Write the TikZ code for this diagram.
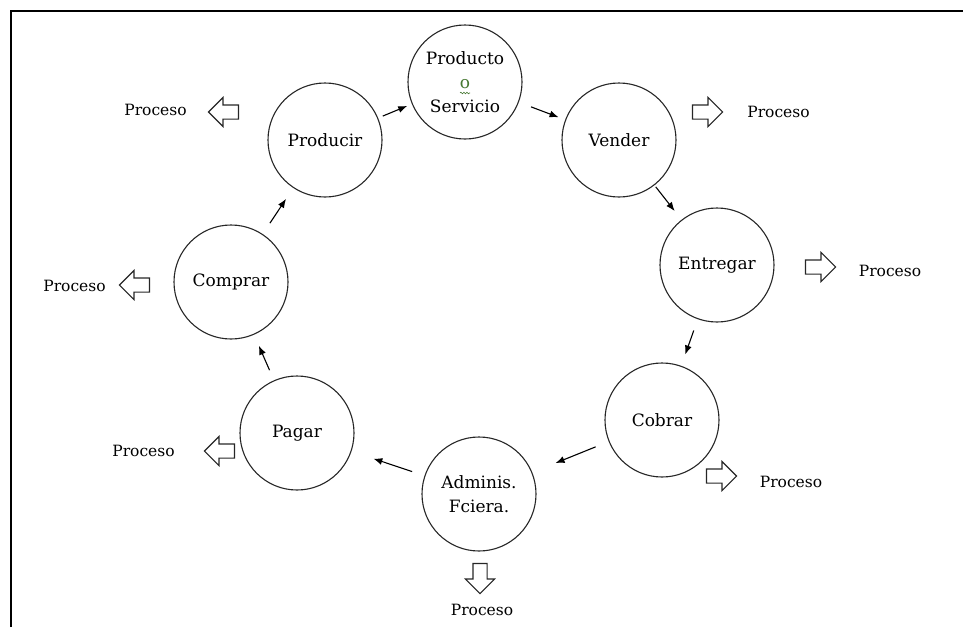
\documentclass[tikz,border=0pt]{standalone}
\usepackage{fontspec}
\setmainfont{DejaVu Serif}
\usetikzlibrary{shapes.arrows,arrows.meta,decorations.pathmorphing}
\definecolor{ogreen}{RGB}{70,120,50}

\begin{document}
\begin{tikzpicture}[x=1pt,y=-1pt,
  stagecirc/.style={circle, draw=black!85, line width=1.1pt, minimum size=114pt,
    inner sep=0pt, align=center, font=\fontsize{17}{24}\selectfont},
  flowarrow/.style={-{Latex[length=9pt,width=7pt]}, line width=1.1pt},
  blockarrow/.style={single arrow, draw=black!85, line width=1.1pt,
    minimum height=30pt, single arrow head extend=7.5pt,
    inner sep=0pt, shape border rotate=#1},
  outarrow/.style={blockarrow=#1, text height=6.5pt, text depth=6.5pt, text width=0pt},
  downarrow/.style={blockarrow=270, text height=0pt, text depth=0pt, text width=13pt},
  proclabel/.style={font=\fontsize{15.5}{18}\selectfont, inner sep=0pt}
]
\useasboundingbox (0,0) rectangle (963,627);

% page frame (top and left edges)
\draw[line width=2pt] (10.5,627) -- (10.5,10.5) -- (963,10.5);

% the cycle of stages
\node[stagecirc] (ps) at (465,82)  {Producto\\{\color{ogreen}o}\\Servicio};
\node[stagecirc] (ve) at (619,140) {Vender};
\node[stagecirc] (en) at (717,265) {Entregar};
\node[stagecirc] (co) at (662,420) {Cobrar};
\node[stagecirc] (ad) at (479,494) {Adminis.\\Fciera.};
\node[stagecirc] (pa) at (297,433) {Pagar};
\node[stagecirc] (cm) at (231,282) {Comprar};
\node[stagecirc] (pr) at (325,140) {Producir};

% green squiggle under the "o"
\draw[ogreen, line width=0.6pt, decorate,
  decoration={snake, amplitude=0.8pt, segment length=3pt}] (460,93) -- (470,93);

% arrows between stages
\draw[flowarrow, shorten <=5pt,  shorten >=5pt]  (pr) -- (ps);
\draw[flowarrow, shorten <=13pt, shorten >=7pt]  (ps) -- (ve);
\draw[flowarrow, shorten <=2pt,  shorten >=11pt] (ve) -- (en);
\draw[flowarrow, shorten <=12pt, shorten >=12pt] (en) -- (co);
\draw[flowarrow, shorten <=14pt, shorten >=25pt] (co) -- (ad);
\draw[flowarrow, shorten <=13pt, shorten >=23pt] (ad) -- (pa);
\draw[flowarrow, shorten <=11pt, shorten >=12pt] (pa) -- (cm);
\draw[flowarrow, shorten <=13pt, shorten >=13pt] (cm) -- (pr);

% hollow arrows pointing to each "Proceso"
\node[outarrow=180] (apr) at (227,112) {};
\node[outarrow=0]   (ave) at (704,112) {};
\node[outarrow=0]   (aen) at (817,267) {};
\node[outarrow=0]   (aco) at (718,476) {};
\node[downarrow]    (aad) at (480,575) {};
\node[outarrow=180] (apa) at (223,451) {};
\node[outarrow=180] (acm) at (138,285) {};

\node[proclabel] (lpr) at (155.5,110) {Proceso};
\node[proclabel] (lve) at (778.5,112) {Proceso};
\node[proclabel] (len) at (890,271)   {Proceso};
\node[proclabel] (lco) at (791,482)   {Proceso};
\node[proclabel] (lad) at (482,610)   {Proceso};
\node[proclabel] (lpa) at (143.5,451) {Proceso};
\node[proclabel] (lcm) at (74.5,286)  {Proceso};
\end{tikzpicture}
\end{document}
